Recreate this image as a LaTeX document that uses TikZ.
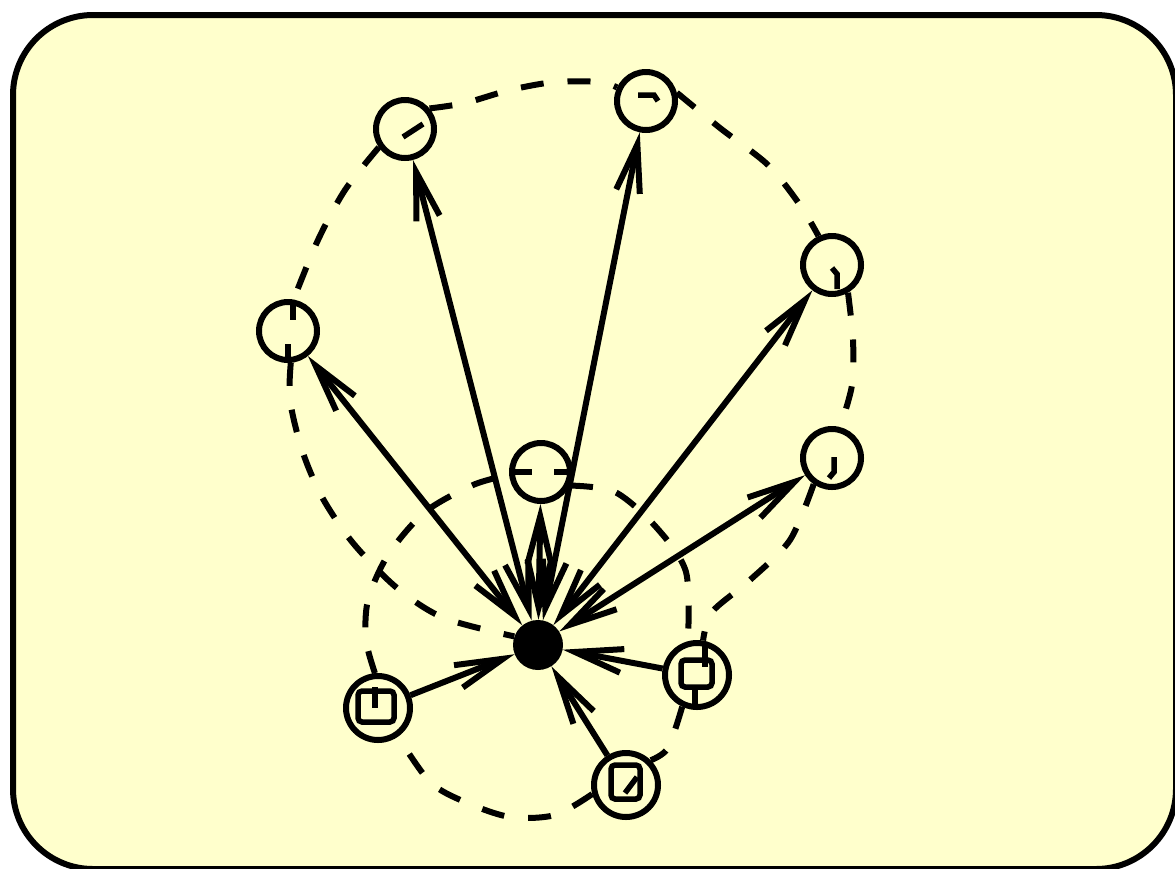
\documentclass[tikz,border=0pt]{standalone}
\usetikzlibrary{arrows.meta}
\definecolor{paper}{RGB}{255,255,204}
\begin{document}
\begin{tikzpicture}[x=1pt,y=-1pt,
  lw/.style={line width=6pt},
  glyph/.style={line width=5.5pt},
  plain/.style={circle,draw,line width=6pt,minimum size=58pt,inner sep=0pt},
  dbl/.style={circle,draw,line width=6pt,minimum size=64pt,inner sep=0pt},
  hubnode/.style={circle,fill=black,minimum size=50pt,inner sep=0pt},
  >={Straight Barb[length=48pt,width=24pt]},
  edge/.style={line width=6pt},
  dl/.style={line width=6pt,dash pattern=on 23pt off 24pt}]
\useasboundingbox (0,0) rectangle (1175,868);
\draw[line width=6pt,fill=paper,rounded corners=80pt] (13,15) rectangle (1176,869);

% nodes
\node[plain] (n1) at (405,129) {};
\node[plain] (n2) at (646,101) {};
\node[plain] (n3) at (832,265) {};
\node[plain] (n4) at (832,458) {};
\node[plain] (n5) at (288,331) {};
\node[plain] (n6) at (541,472) {};
\node[dbl] (n7) at (697,675) {};
\node[dbl] (n8) at (626,785) {};
\node[dbl] (n9) at (378,708) {};
\node[hubnode] (hub) at (538,645) {};

% glyphs inside nodes
\begin{scope}[shift={(n1.center)}] \draw[glyph] (-2,8) -- (18,-5); \end{scope}
\begin{scope}[shift={(n2.center)}] \draw[glyph] (-8,-6) -- (8,-6) -- (12,0); \end{scope}
\begin{scope}[shift={(n3.center)}] \draw[glyph] (0,3) -- (5,9) -- (5,24); \end{scope}
\begin{scope}[shift={(n4.center)}] \draw[glyph] (2,-1) -- (2,14) -- (-3,20); \end{scope}
\begin{scope}[shift={(n5.center)}] \draw[glyph] (5,-29) -- (5,-11); \draw[glyph] (0,13) -- (0,30); \end{scope}
\begin{scope}[shift={(n6.center)}] \draw[glyph] (-29,0) -- (-9,0); \draw[glyph] (13,0) -- (29,0); \end{scope}
\begin{scope}[shift={(n7.center)}]
  \draw[glyph,rounded corners=4pt] (-16,-15) rectangle (15,12);
  \draw[glyph] (8,-32) -- (8,-8); \draw[glyph] (-2,12) -- (-2,32);
\end{scope}
\begin{scope}[shift={(n8.center)}]
  \draw[glyph,rounded corners=4pt] (-15,-20) rectangle (14,14);
  \draw[glyph] (11,-8) -- (-1,8);
\end{scope}
\begin{scope}[shift={(n9.center)}]
  \draw[glyph,rounded corners=4pt] (-20,-17) rectangle (16,14);
  \draw[glyph] (-3,-21) -- (-3,0);
\end{scope}

% dashed curves
\draw[dl] plot[smooth] coordinates {(n1.215) (345,190) (318,240) (n5.80)};
\draw[dl] plot[smooth] coordinates {(n1.40) (465,103) (510,90) (555,82) (600,82) (n2.155)};
\draw[dl] plot[smooth] coordinates {(n2.15) (720,128) (768,165) (800,205) (n3.115)};
\draw[dl] plot[smooth] coordinates {(n3.-60) (853,340) (852,385) (n4.75)};
\draw[dl] plot[smooth] coordinates {(n4.235) (790,540) (750,580) (712,612) (n7.80)};
\draw[dl] plot[smooth] coordinates {(n6.-25) (615,492) (656,527) (686,572) (n7.105)};
\draw[dl] plot[smooth] coordinates {(n7.245) (668,748) (n8.45)};
\draw[dl] plot[smooth] coordinates {(n8.195) (555,815) (510,817) (465,802) (430,782) (n9.-55)};
\draw[dl] plot[smooth] coordinates {(n5.-85) (290,400) (302,450) (322,497) (353,543) (397,588) (444,618) (hub.160)};
\draw[dl] plot[smooth] coordinates {(n9.95) (366,640) (368,600) (388,555) (425,512) (473,485) (n6.185)};

% edges
\draw[edge,<->] (hub) -- (n1);
\draw[edge,<->] (hub) -- (n2);
\draw[edge,<->] (hub) -- (n3);
\draw[edge,<->] (hub) -- (n4);
\draw[edge,<->] (hub) -- (n5);
\draw[edge,<->] (hub) -- (n6);
\draw[edge,->] (n7) -- (hub);
\draw[edge,->] (n8) -- (hub);
\draw[edge,->] (n9) -- (hub);
\end{tikzpicture}
\end{document}
